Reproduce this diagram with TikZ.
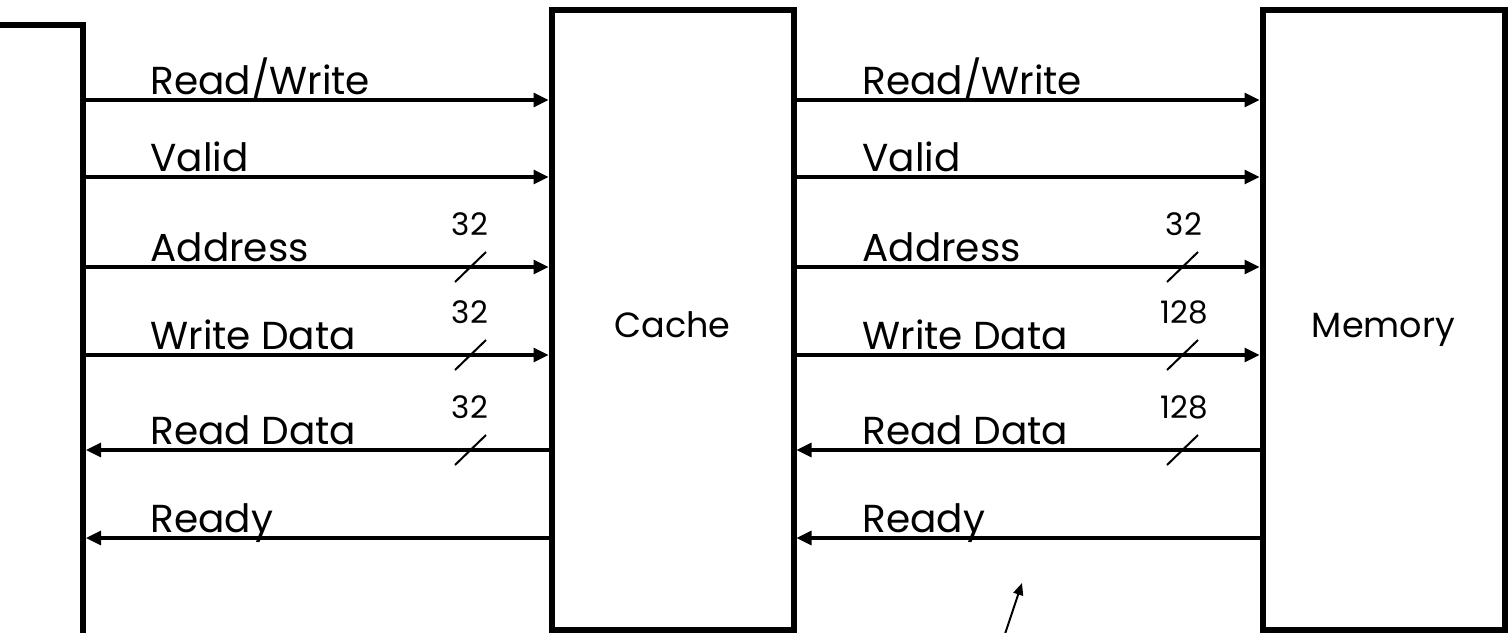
\documentclass[tikz,border=0pt]{standalone}
\usepackage{fontspec}
\setmainfont{Poppins}
\usetikzlibrary{arrows.meta}
\begin{document}
\begin{tikzpicture}[x=0.5pt,y=-0.5pt,
  box/.style={draw=black,line width=3pt,fill=white,inner sep=0pt,minimum width=121pt,minimum height=309.75pt},
  sig/.style={line width=1.6pt,-{Triangle[length=7.5pt,width=7pt]}},
  lbl/.style={anchor=base west,inner sep=0pt,font=\fontsize{19.5}{22}\selectfont},
  blbl/.style={inner sep=0pt,font=\fontsize{15.5}{18}\selectfont},
  boxlbl/.style={anchor=base,inner sep=0pt,font=\fontsize{17.5}{20}\selectfont},
  slash/.style={line width=1pt}]
\useasboundingbox (0,0) rectangle (1510,632);
\clip (0,0) rectangle (1510,632);
\node[box,minimum width=141.5pt,minimum height=387.5pt] (proc) at (-58.5,412.5) {};
\node[box] (cache) at (672.5,319.75) {};
\node[box] (mem) at (1383.5,319.75) {};
\node[boxlbl] (cachet) at (672.5,337) {Cache};
\node[boxlbl] (memt) at (1383.5,337) {Memory};
\foreach \yy/\txt/\nm in {100/Read\slash Write/a, 177/Valid/b, 267/Address/c, 355/Write Data/d}{
  \draw[sig] (proc.east |- 0,\yy) -- (cache.west |- 0,\yy);
  \node[lbl] (l\nm) at (150,\yy-6) {\txt};
  \draw[sig] (cache.east |- 0,\yy) -- (mem.west |- 0,\yy);
  \node[lbl] (r\nm) at (862,\yy-6) {\txt};
}
\foreach \yy/\txt/\nm in {450/Read Data/e, 538/Ready/f}{
  \draw[sig] (cache.west |- 0,\yy) -- (proc.east |- 0,\yy);
  \node[lbl] (l\nm) at (150,\yy-6) {\txt};
  \draw[sig] (mem.west |- 0,\yy) -- (cache.east |- 0,\yy);
  \node[lbl] (r\nm) at (862,\yy-6) {\txt};
}
\foreach \yy/\lw/\rw/\nm in {267/32/32/c, 355/32/128/d, 450/32/128/e}{
  \draw[slash] (455,\yy+15) -- (486,\yy-15);
  \node[blbl] (bl\nm) at (470,\yy-43) {\lw};
  \draw[slash] (1167,\yy+15) -- (1198,\yy-15);
  \node[blbl] (br\nm) at (1184,\yy-43) {\rw};
}
\coordinate (pa) at (1003,640);
\coordinate (pb) at (1022,583);
\draw[line width=1pt,-{Triangle[length=6pt,width=5pt]}] (pa) -- (pb);
\end{tikzpicture}
\end{document}
